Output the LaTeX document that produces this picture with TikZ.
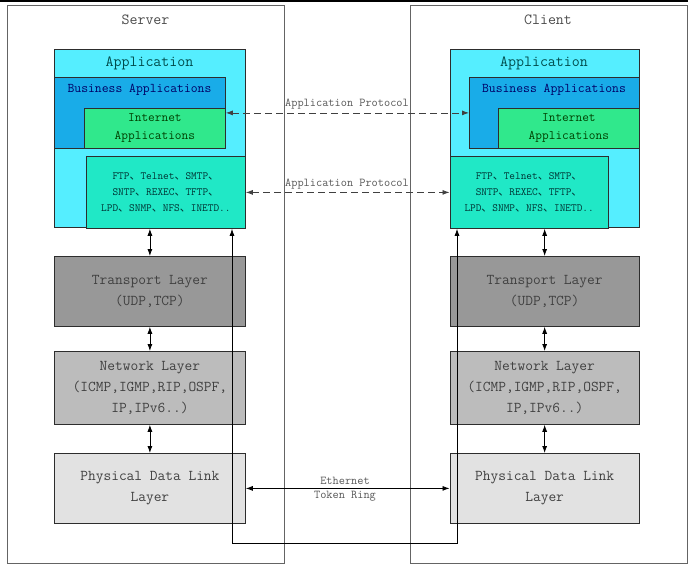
\documentclass[tikz,border=0pt]{standalone}
\usepackage{fontspec}
\renewcommand{\familydefault}{\ttdefault}
\newfontfamily\cjk{Noto Sans CJK SC}
\usetikzlibrary{arrows.meta}
\definecolor{appc}{RGB}{85,238,255}
\definecolor{busc}{RGB}{25,172,232}
\definecolor{intc}{RGB}{48,232,140}
\definecolor{ftpc}{RGB}{32,232,198}
\definecolor{trc}{RGB}{152,152,152}
\definecolor{netc}{RGB}{188,188,188}
\definecolor{phyc}{RGB}{226,226,226}
\definecolor{framec}{RGB}{100,100,100}
\definecolor{edgec}{RGB}{45,45,45}
\newcommand{\dn}{{\cjk 、}}
\tikzset{
  frame/.style={draw=framec, line width=0.9pt, anchor=north west, inner sep=0pt},
  box/.style={draw=edgec, line width=0.8pt, anchor=north west, inner sep=0pt, align=center},
  layertxt/.style={font=\ttfamily\fontsize{15}{21}\selectfont, text=black!75},
  ttl/.style={font=\ttfamily\fontsize{15.5}{16}\selectfont, text=black!70},
  dar/.style={{Latex[length=7pt,width=5pt]}-{Latex[length=7pt,width=5pt]}, line width=0.8pt, black},
  dashar/.style={dar, dash pattern=on 7pt off 4pt, black!75},
  lbl/.style={font=\ttfamily\fontsize{12}{12}\selectfont, text=black!65, inner sep=0pt}
}
\begin{document}
\begin{tikzpicture}[x=1pt,y=-1pt]
\useasboundingbox (0,0) rectangle (694,568);
\fill[white] (0,0) rectangle (694,568);
\draw[black, line width=2pt] (0,1) -- (688,1);
% outer frames
\node[frame, minimum width=277pt, minimum height=558pt] (srv) at (7,5) {};
\node[frame, minimum width=277pt, minimum height=558pt] (cli) at (410,5) {};
\node[ttl] (srvt) at (145.5,20) {Server};
\node[ttl] (clit) at (548,20) {Client};
% server application
\node[box, fill=appc, minimum width=191pt, minimum height=178pt] (sapp) at (54,49) {};
\node[ttl, text=teal!60!black] (sappt) at (149.5,63) {Application};
\node[box, fill=busc, minimum width=171pt, minimum height=71pt] (sbus) at (54,77) {};
\node[font=\ttfamily\fontsize{13.3}{14}\selectfont, text=blue!40!black] (sbust) at (139.5,90) {Business Applications};
\node[box, fill=intc, minimum width=141pt, minimum height=40pt, font=\ttfamily\fontsize{13}{18}\selectfont, text=green!25!black] (sint) at (84,108) {Internet\\Applications};
\node[box, fill=ftpc, minimum width=159pt, minimum height=72pt, font=\ttfamily\fontsize{11}{16}\selectfont, text=teal!40!black] (sftp) at (86,156) {FTP\dn Telnet\dn SMTP\dn\\SNTP\dn REXEC\dn TFTP\dn\\LPD\dn SNMP\dn NFS\dn INETD..};
\node[box, fill=trc, minimum width=191pt, minimum height=70pt, layertxt] (str) at (54,256) {Transport Layer\\(UDP,TCP)};
\node[box, fill=netc, minimum width=191pt, minimum height=73pt, layertxt] (snet) at (54,351) {Network Layer\\(ICMP,IGMP,RIP,OSPF,\\IP,IPv6..)};
\node[box, fill=phyc, minimum width=191pt, minimum height=70pt, layertxt] (sphy) at (54,453) {Physical Data Link\\Layer};
% client application
\node[box, fill=appc, minimum width=189.5pt, minimum height=178pt] (capp) at (449.5,49) {};
\node[ttl, text=teal!60!black] (cappt) at (544,63) {Application};
\node[box, fill=busc, minimum width=170pt, minimum height=71pt] (cbus) at (469,77) {};
\node[font=\ttfamily\fontsize{13.3}{14}\selectfont, text=blue!40!black] (cbust) at (554,90) {Business Applications};
\node[box, fill=intc, minimum width=141pt, minimum height=40pt, font=\ttfamily\fontsize{13}{18}\selectfont, text=green!25!black] (cint) at (498,108) {Internet\\Applications};
\node[box, fill=ftpc, minimum width=158.5pt, minimum height=72pt, font=\ttfamily\fontsize{11}{16}\selectfont, text=teal!40!black] (cftp) at (449.5,156) {FTP\dn Telnet\dn SMTP\dn\\SNTP\dn REXEC\dn TFTP\dn\\LPD\dn SNMP\dn NFS\dn INETD..};
\node[box, fill=trc, minimum width=189.5pt, minimum height=70pt, layertxt] (ctr) at (449.5,256) {Transport Layer\\(UDP,TCP)};
\node[box, fill=netc, minimum width=189.5pt, minimum height=73pt, layertxt] (cnet) at (449.5,351) {Network Layer\\(ICMP,IGMP,RIP,OSPF,\\IP,IPv6..)};
\node[box, fill=phyc, minimum width=189.5pt, minimum height=70pt, layertxt] (cphy) at (449.5,453) {Physical Data Link\\Layer};
% vertical arrows
\draw[dar] (sftp.south -| str.north) -- (str.north);
\draw[dar] (str.south) -- (snet.north);
\draw[dar] (snet.south) -- (sphy.north);
\draw[dar] (cftp.south -| ctr.north) -- (ctr.north);
\draw[dar] (ctr.south) -- (cnet.north);
\draw[dar] (cnet.south) -- (cphy.north);
% long link
\coordinate (lk1) at (232,543);
\coordinate (lk2) at (457,543);
\draw[dar] (sftp.south -| lk1) -- (lk1) -- (lk2) -- (cftp.south -| lk2);
% protocol arrows
\draw[dashar] (sbus.east) -- (cbus.west);
\draw[dashar] (sftp.east) -- (cftp.west);
\draw[dar] (sphy.east) -- (cphy.west);
\node[lbl] (ap1) at (347,104) {Application Protocol};
\node[lbl] (ap2) at (347,184) {Application Protocol};
\node[lbl] (eth) at (345,481) {Ethernet};
\node[lbl] (tok) at (345,496) {Token Ring};
\end{tikzpicture}
\end{document}
